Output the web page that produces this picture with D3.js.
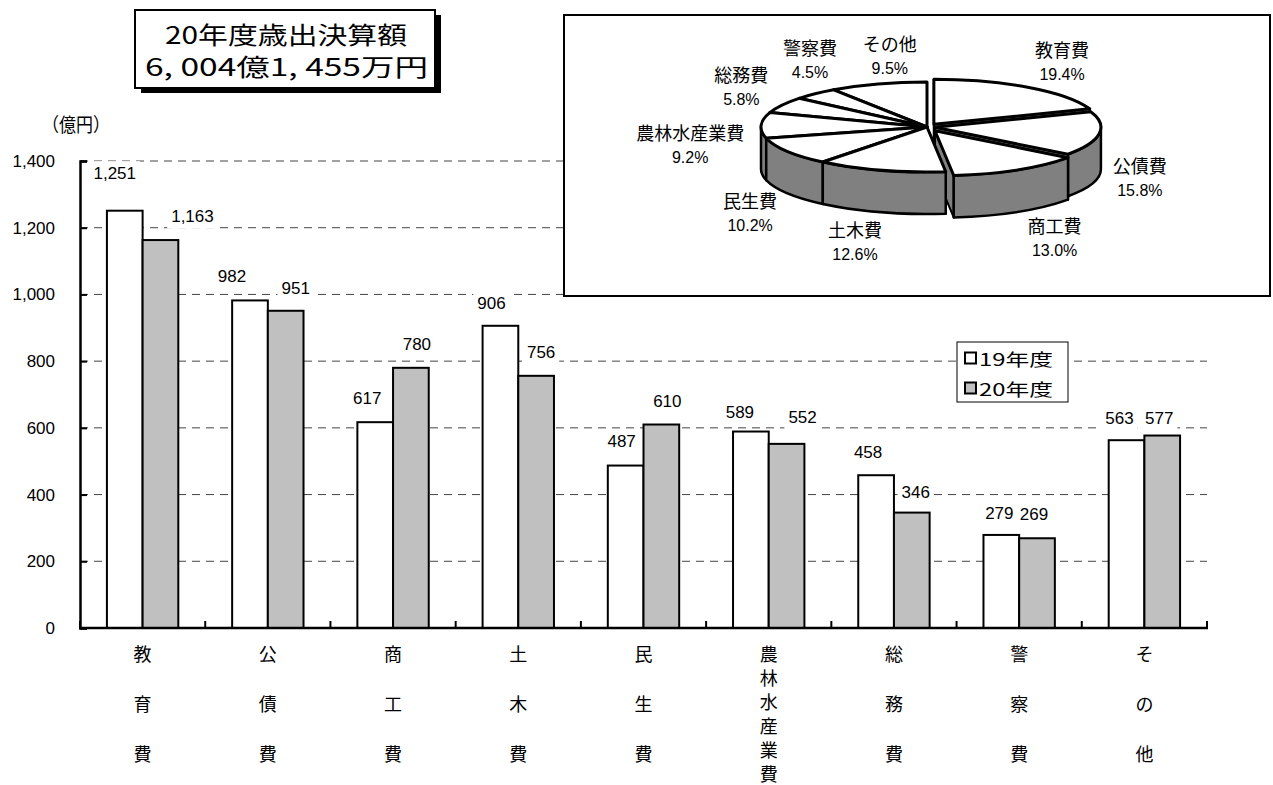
<!DOCTYPE html>
<html><head><meta charset="utf-8">
<script src="https://cdn.jsdelivr.net/npm/d3@7"></script>
<style>body{margin:0;background:#fff}</style>
</head><body>
<svg id="chart" width="1273" height="785"></svg>
<script>
// 歳出決算額（目的別） 19年度・20年度
const categories = ['教育費','公債費','商工費','土木費','民生費','農林水産業費','総務費','警察費','その他'];
const values19 = [1251, 982, 617, 906, 487, 589, 458, 279, 563];
const values20 = [1163, 951, 780, 756, 610, 552, 346, 269, 577];
const seriesNames = ['19年度', '20年度'];
const pieShares = [19.4, 15.8, 13.0, 12.6, 10.2, 9.2, 5.8, 4.5, 9.5];
const yTickValues = [0, 200, 400, 600, 800, 1000, 1200, 1400];
const titleLines = ['20年度歳出決算額', '6, 004億1, 455万円'];
const unitLabel = '（億円）';

const JP = '"Noto Sans CJK JP", "Noto Sans", sans-serif';
const NUM = '"Liberation Sans", Arial, sans-serif';
const NARROW = '"Liberation Sans Narrow", "Liberation Sans", Arial, sans-serif';

const svg = d3.select('#chart');

const x = d3.scaleBand().domain(categories).range([80, 1207]).padding(0);
const y = d3.scaleLinear().domain([0, 1400]).range([628, 161]);
const barW = x.bandwidth() * 0.285;
const fillOf = d3.scaleOrdinal().domain(seriesNames).range(['#ffffff', '#c0c0c0']);
const inGroup = d3.scaleBand().domain(seriesNames).range([-barW, barW]);

// dashed gridlines
svg.append('g').selectAll('line')
  .data(yTickValues.filter(v => v > 0)).join('line')
  .attr('x1', 80).attr('x2', 1207)
  .attr('y1', d => y(d)).attr('y2', d => y(d))
  .attr('stroke', '#444').attr('stroke-width', 1)
  .attr('stroke-dasharray', '8,6');

const rows = categories.map((c, i) => ({ c, vals: [values19[i], values20[i]] }));

// value label layout: horizontal shift per label, and lift above the bar top
const labelShift = [
  [-10, -18, -8, -9, -4, -11, -8, -2, -7],
  [32, 10, 6, 5, 6, 16, 4, -3, -3]
];
const labelLift = [
  [37, 24, 24, 22, 24, 19, 23, 21, 22],
  [24, 22, 23, 23, 23, 26, 20, 24, 17]
];
const bgLayer = svg.append('g');   // white boxes behind labels (hide gridlines only)
const barLayer = svg.append('g');
const txtLayer = svg.append('g');

// bars
const grp = barLayer.selectAll('g').data(rows).join('g')
  .attr('transform', d => `translate(${x(d.c) + x.bandwidth() / 2},0)`);
grp.selectAll('rect')
  .data(d => seriesNames.map((s, k) => ({ s, v: d.vals[k] })))
  .join('rect')
  .attr('x', d => inGroup(d.s)).attr('width', inGroup.bandwidth())
  .attr('y', d => y(d.v)).attr('height', d => y(0) - y(d.v))
  .attr('fill', d => fillOf(d.s))
  .attr('stroke', '#000').attr('stroke-width', 2);

// value labels
rows.forEach((r, i) => {
  r.vals.forEach((v, k) => {
    const cx = x(r.c) + x.bandwidth() / 2 + inGroup(seriesNames[k]) + inGroup.bandwidth() / 2 + labelShift[k][i];
    const cy = y(v) - labelLift[k][i];
    const t = txtLayer.append('text').attr('x', cx).attr('y', cy)
      .attr('text-anchor', 'middle').attr('dominant-baseline', 'central')
      .attr('font-family', NUM).attr('font-size', 17).text(d3.format(',')(v));
    const bb = t.node().getBBox();
    bgLayer.append('rect').attr('x', bb.x - 4).attr('y', bb.y - 3)
      .attr('width', bb.width + 8).attr('height', bb.height + 6).attr('fill', '#fff');
  });
});

// y axis
const yAxis = d3.axisLeft(y).tickValues(yTickValues)
  .tickFormat(d3.format(','))
  .tickSizeInner(-7).tickSizeOuter(-7).tickPadding(25);
const ya = svg.append('g').attr('transform', 'translate(80,0)').call(yAxis);
ya.select('.domain').attr('stroke', '#000').attr('stroke-width', 2.5);
ya.selectAll('.tick line').attr('stroke', '#000').attr('stroke-width', 2);
ya.selectAll('.tick text').attr('font-family', NUM).attr('font-size', 17).attr('fill', '#000');

// x axis line with category boundary ticks
const bounds = categories.map(c => x(c)).concat([x.range()[1]]);
svg.append('line').attr('x1', 79).attr('x2', 1208).attr('y1', y(0)).attr('y2', y(0))
  .attr('stroke', '#000').attr('stroke-width', 2.5);
svg.append('g').selectAll('line').data(bounds).join('line')
  .attr('x1', d => d).attr('x2', d => d)
  .attr('y1', y(0)).attr('y2', y(0) - 7)
  .attr('stroke', '#000').attr('stroke-width', 2);

// vertical category labels (one character per line)
const xl = svg.append('g').selectAll('g').data(categories).join('g')
  .attr('transform', d => `translate(${x(d) + x.bandwidth() / 2},0)`);
xl.selectAll('text')
  .data(d => { const ch = Array.from(d); const step = ch.length <= 3 ? 50 : 24; return ch.map((t, i) => ({ t, yy: 653 + i * step })); })
  .join('text')
  .attr('x', 0).attr('y', d => d.yy)
  .attr('text-anchor', 'middle').attr('dominant-baseline', 'central')
  .attr('font-family', JP).attr('font-size', 18).attr('fill', '#000')
  .text(d => d.t);

// unit label
svg.append('text').attr('x', 76).attr('y', 123)
  .attr('text-anchor', 'middle').attr('dominant-baseline', 'central')
  .attr('font-family', JP).attr('font-size', 19)
  .attr('textLength', 68).attr('lengthAdjust', 'spacingAndGlyphs')
  .text(unitLabel);

// ---- pie chart panel ----
svg.append('rect').attr('x', 564).attr('y', 15).attr('width', 706).attr('height', 281)
  .attr('fill', '#fff').attr('stroke', '#000').attr('stroke-width', 2);

const pieCx = 927, pieCy = 127, rx = 166, ry = 45, depth = 42;
const explode = [12, 8, 16, 0, 0, 0, 0, 0, 0];
const arcs = d3.pie().sort(null)(pieShares);
arcs.forEach((d, i) => {
  d.mid = (d.startAngle + d.endAngle) / 2;
  const e = explode[i];
  d.off = [e * Math.sin(d.mid), -e * Math.cos(d.mid) * ry / rx];
  d.name = categories[i];
});
const pt = (a, o, dz) => [pieCx + o[0] + rx * Math.sin(a), pieCy + o[1] - ry * Math.cos(a) + dz];
const ctr = (o, dz) => [pieCx + o[0], pieCy + o[1] + dz];
const order = arcs.slice().sort((a, b) => (-Math.cos(a.mid)) - (-Math.cos(b.mid)));
const pie = svg.append('g').attr('stroke', '#000').attr('stroke-width', 2).attr('stroke-linejoin', 'round');
const SIDE = '#808080';

// radial cut faces
order.forEach(d => {
  [d.startAngle, d.endAngle].forEach(a => {
    const c0 = ctr(d.off, 0), p0 = pt(a, d.off, 0), p1 = pt(a, d.off, depth), c1 = ctr(d.off, depth);
    pie.append('path').attr('d', `M${c0}L${p0}L${p1}L${c1}Z`).attr('fill', SIDE);
  });
});
// outer walls (front half only)
order.forEach(d => {
  const b0 = Math.max(d.startAngle, Math.PI / 2), b1 = Math.min(d.endAngle, 3 * Math.PI / 2);
  if (b1 <= b0) return;
  const la = (b1 - b0) > Math.PI ? 1 : 0;
  const p0 = pt(b0, d.off, 0), p1 = pt(b1, d.off, 0), q1 = pt(b1, d.off, depth), q0 = pt(b0, d.off, depth);
  pie.append('path')
    .attr('d', `M${p0}A${rx},${ry} 0 ${la} 1 ${p1}L${q1}A${rx},${ry} 0 ${la} 0 ${q0}Z`)
    .attr('fill', SIDE).attr('stroke-width', 2.5);
});
// top faces
order.forEach(d => {
  const la = (d.endAngle - d.startAngle) > Math.PI ? 1 : 0;
  const c = ctr(d.off, 0), p0 = pt(d.startAngle, d.off, 0), p1 = pt(d.endAngle, d.off, 0);
  pie.append('path').attr('d', `M${c}L${p0}A${rx},${ry} 0 ${la} 1 ${p1}Z`)
    .attr('fill', '#fff').attr('stroke-width', 3);
});

// pie labels placed just outside each slice
const pieLabelNudge = [[16, 3], [7, -3], [24, -3], [-14, -7], [-2, -1], [-5, 21], [-4, 0], [23, -6], [24, 8]];
const pl = svg.append('g');
arcs.forEach((d, i) => {
  const m = d.mid, s = Math.sin(m), c = Math.cos(m);
  const w = 16 * Array.from(d.name).length;
  const px = pieCx + (rx + 18) * s + (w / 2) * s + pieLabelNudge[i][0];
  const py = pieCy - (ry + 18) * c + (c < 0 ? depth : 0) - 20 * c + pieLabelNudge[i][1];
  pl.append('text').attr('x', px).attr('y', py - 12.5)
    .attr('text-anchor', 'middle').attr('dominant-baseline', 'central')
    .attr('font-family', JP).attr('font-size', 18).text(d.name);
  pl.append('text').attr('x', px).attr('y', py + 12.5)
    .attr('text-anchor', 'middle').attr('dominant-baseline', 'central')
    .attr('font-family', NARROW).attr('font-size', 16).text(d.data.toFixed(1) + '%');
});

// ---- legend ----
const lg = svg.append('g');
lg.append('rect').attr('x', 957).attr('y', 342).attr('width', 111).attr('height', 60)
  .attr('fill', '#fff').attr('stroke', '#000').attr('stroke-width', 1);
seriesNames.forEach((s, k) => {
  const cy = 358 + k * 30;
  lg.append('rect').attr('x', 965).attr('y', cy - 5.5).attr('width', 11).attr('height', 11)
    .attr('fill', fillOf(s)).attr('stroke', '#000').attr('stroke-width', 2);
  lg.append('text').attr('x', 979).attr('y', cy)
    .attr('dominant-baseline', 'central')
    .attr('font-family', JP).attr('font-size', 17)
    .attr('textLength', 74).attr('lengthAdjust', 'spacingAndGlyphs')
    .text(s);
});

// ---- title box ----
const tb = svg.append('g');
tb.append('rect').attr('x', 141).attr('y', 15).attr('width', 300).attr('height', 78).attr('fill', '#000');
tb.append('rect').attr('x', 135).attr('y', 10).attr('width', 300).attr('height', 78)
  .attr('fill', '#fff').attr('stroke', '#000').attr('stroke-width', 2);
const titleSpan = [[165, 242], [145, 283]];
titleLines.forEach((t, i) => {
  tb.append('text').attr('x', titleSpan[i][0]).attr('y', 33 + i * 32)
    .attr('dominant-baseline', 'central')
    .attr('font-family', JP).attr('font-size', 24)
    .attr('textLength', titleSpan[i][1]).attr('lengthAdjust', 'spacingAndGlyphs')
    .text(t);
});
</script>
</body></html>
